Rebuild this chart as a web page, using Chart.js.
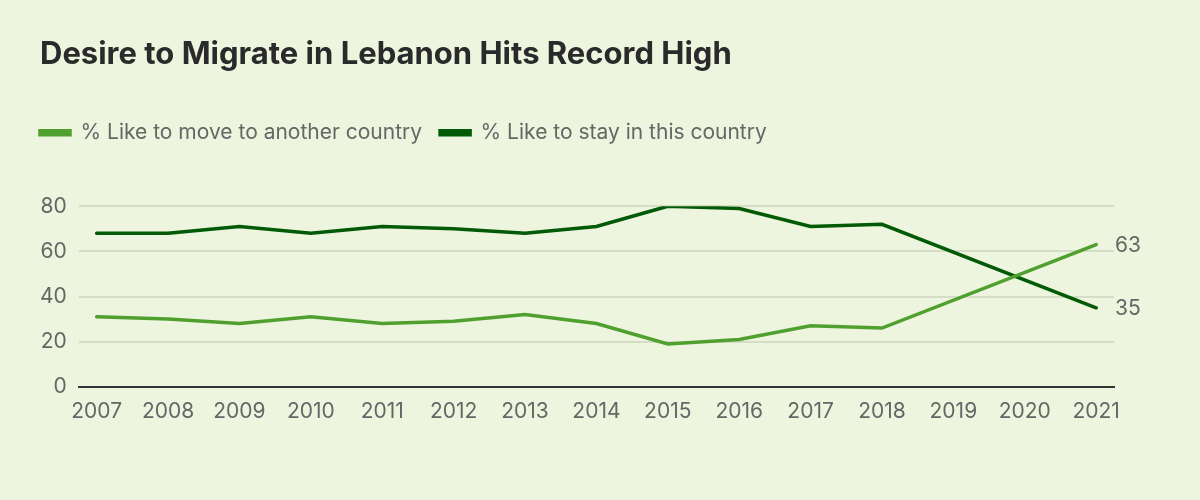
<!DOCTYPE html>
<html>
<head>
<meta charset="utf-8">
<script src="https://cdn.jsdelivr.net/npm/chart.js@4/dist/chart.umd.min.js"></script>
<style>
  html, body { margin: 0; padding: 0; background: #edf5de; }
  #wrap { width: 1200px; height: 500px; }
</style>
</head>
<body>
<div id="wrap"><canvas id="chart" width="1200" height="500"></canvas></div>
<script>
// --- DATA ---
const years = [2007, 2008, 2009, 2010, 2011, 2012, 2013, 2014, 2015, 2016, 2017, 2018, 2019, 2020, 2021];
const moveAbroad = [31, 30, 28, 31, 28, 29, 32, 28, 19, 21, 27, 26, null, null, 63];
const stayHere = [68, 68, 71, 68, 71, 70, 68, 71, 80, 79, 71, 72, null, null, 35];
const yTicks = [0, 20, 40, 60, 80];

const FONT = 'Inter, "Noto Sans", sans-serif';
const GREY = '#666666';

const toPoints = (vals) => years.map((y, i) => ({ x: y, y: vals[i] }));

// push the plot area down below the legend, and line title + legend up at x=40
const headerLayout = {
    id: 'headerLayout',
    beforeInit(chart) {
        const fit = chart.legend.fit;
        chart.legend.fit = function () {
            fit.bind(chart.legend)();
            this.height += 56;
        };
    },
    afterLayout(chart) {
        chart.titleBlock.left += 12;
        chart.titleBlock.right += 12;
        chart.legend.left -= 6;
        chart.legend.right -= 6;
        chart.legend.top += 3;
        chart.legend.bottom += 3;
    }
};

// value labels just right of the plot, level with the last point of each line
const endLabels = {
    id: 'endLabels',
    afterDatasetsDraw(chart) {
        const ctx = chart.ctx;
        ctx.save();
        ctx.font = '21px ' + FONT;
        ctx.fillStyle = GREY;
        ctx.textBaseline = 'middle';
        ctx.textAlign = 'left';
        chart.data.datasets.forEach((ds, i) => {
            const meta = chart.getDatasetMeta(i);
            const last = meta.data[meta.data.length - 1];
            const val = ds.data[ds.data.length - 1].y;
            ctx.fillText(val, chart.chartArea.right + 1, last.y + 1);
        });
        ctx.restore();
    }
};

new Chart(document.getElementById('chart').getContext('2d'), {
    type: 'line',
    data: {
        datasets: [
            { label: '% Like to move to another country', data: toPoints(moveAbroad), borderColor: '#50a030', backgroundColor: '#50a030', borderWidth: 3.5, pointRadius: 0, spanGaps: true, tension: 0, borderCapStyle: 'round' },
            { label: '% Like to stay in this country', data: toPoints(stayHere), borderColor: '#025a06', backgroundColor: '#025a06', borderWidth: 3.5, pointRadius: 0, spanGaps: true, tension: 0, borderCapStyle: 'round' }
        ]
    },
    options: {
        responsive: false,
        animation: false,
        layout: { padding: { left: 28, right: 86, top: 36, bottom: 72 } },
        plugins: {
            title: {
                display: true, text: 'Desire to Migrate in Lebanon Hits Record High',
                align: 'start', color: '#2a2a2a',
                font: { family: FONT, size: 31, weight: 'bold' },
                padding: { top: 0, bottom: 28 }
            },
            legend: {
                display: true, align: 'start',
                labels: { boxWidth: 30, boxHeight: 4, padding: 18, color: GREY, font: { family: FONT, size: 21 } }
            },
            tooltip: { enabled: false }
        },
        scales: {
            x: {
                type: 'linear', min: 2006.75, max: 2021.25,
                afterBuildTicks: (scale) => { scale.ticks = years.map(v => ({ value: v })); },
                grid: { display: false },
                border: { display: true, color: '#333333', width: 2 },
                ticks: { color: GREY, padding: 4, font: { family: FONT, size: 21 }, callback: (v) => String(v), maxRotation: 0, autoSkip: false }
            },
            y: {
                min: 0, max: 80,
                afterBuildTicks: (scale) => { scale.ticks = yTicks.map(v => ({ value: v })); },
                grid: { color: '#d5ddc7', lineWidth: 2, drawTicks: false },
                border: { display: false },
                ticks: { color: GREY, padding: 12, font: { family: FONT, size: 21 } }
            }
        }
    },
    plugins: [headerLayout, endLabels]
});
</script>
</body>
</html>
